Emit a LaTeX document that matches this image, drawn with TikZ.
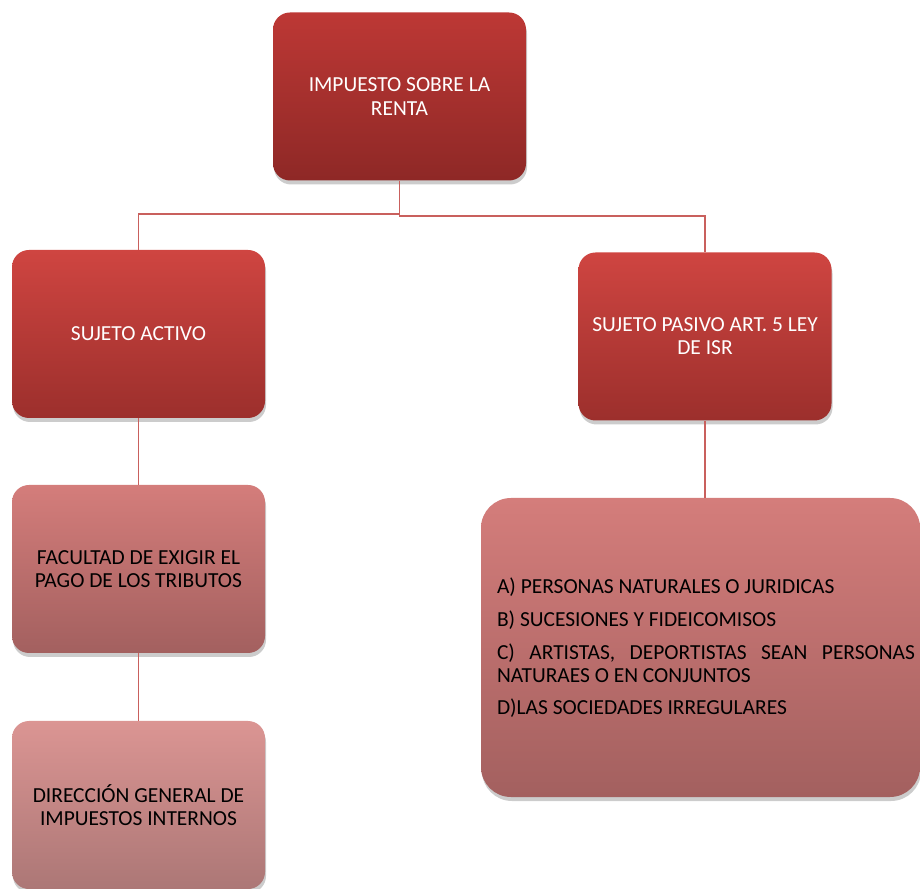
\documentclass[tikz,border=0pt]{standalone}
\usepackage{fontspec}
\setmainfont{Carlito}
\usetikzlibrary{shadows}

\definecolor{rojoA}{HTML}{BD3835}
\definecolor{rojoB}{HTML}{8E2826}
\definecolor{rojoC}{HTML}{CF4541}
\definecolor{rojoD}{HTML}{9C2F2C}
\definecolor{rosaA}{HTML}{D47D7B}
\definecolor{rosaB}{HTML}{A3605F}
\definecolor{rosaC}{HTML}{DB9593}
\definecolor{rosaD}{HTML}{AC7776}
\definecolor{linea}{HTML}{C9605D}

\begin{document}
\begin{tikzpicture}[
		caja/.style={rectangle, rounded corners=0.34cm, minimum width=5.06cm,
			minimum height=3.36cm, align=center, inner sep=0pt,
			font=\fontsize{12.2}{13.2}\selectfont,
			drop shadow={shadow xshift=0.02cm, shadow yshift=-0.08cm,
				opacity=0.2, fill=black}},
		oscura/.style={caja, top color=rojoA, bottom color=rojoB, text=white},
		media/.style={caja, top color=rojoC, bottom color=rojoD, text=white},
		clara/.style={caja, top color=rosaA, bottom color=rosaB, text=black},
		palida/.style={caja, top color=rosaC, bottom color=rosaD, text=black},
		conector/.style={draw=linea, line width=0.03cm}
	]
		%\draw[help lines] (0,0) grid (18,17);
		\useasboundingbox (0,0) rectangle (18.4,17.76);

		\node[oscura] (isr) at (7.99,15.83) {IMPUESTO SOBRE LA\\RENTA};

		\node[media] (activo) at (2.77,11.08) {SUJETO ACTIVO};
		\node[media] (pasivo) at (14.10,11.03) {SUJETO PASIVO ART. 5 LEY\\DE ISR};

		\node[clara] (facultad) at (2.77,6.38) {FACULTAD DE EXIGIR EL\\PAGO DE LOS TRIBUTOS};
		\node[palida] (direccion) at (2.77,1.66) {DIRECCIÓN GENERAL DE\\IMPUESTOS INTERNOS};

		\node[clara, rounded corners=0.6cm, minimum width=8.78cm, minimum height=5.98cm]
			(personas) at (14.01,4.81) {};
		\node[text width=8.36cm, align=justify, inner sep=0pt,
			font=\fontsize{12.2}{13.2}\selectfont] (lista) at (14.12,4.80) {%
			\hyphenpenalty=10000\exhyphenpenalty=10000%
			\setlength{\parskip}{5.4pt}%
			A) PERSONAS NATURALES O JURIDICAS\par
			B) SUCESIONES Y FIDEICOMISOS\par
			C) ARTISTAS, DEPORTISTAS SEAN PERSONAS NATURAES O EN CONJUNTOS\par
			D)LAS SOCIEDADES IRREGULARES};

		\draw[conector] (isr.south) -- ++(0,-0.66) -| (activo.north);
		\draw[conector] (isr.south) -- ++(0,-0.70) -| (pasivo.north);
		\draw[conector] (activo.south) -- (facultad.north);
		\draw[conector] (facultad.south) -- (direccion.north);
		\draw[conector] (pasivo.south) -- (pasivo.south |- personas.north);
\end{tikzpicture}
\end{document}
